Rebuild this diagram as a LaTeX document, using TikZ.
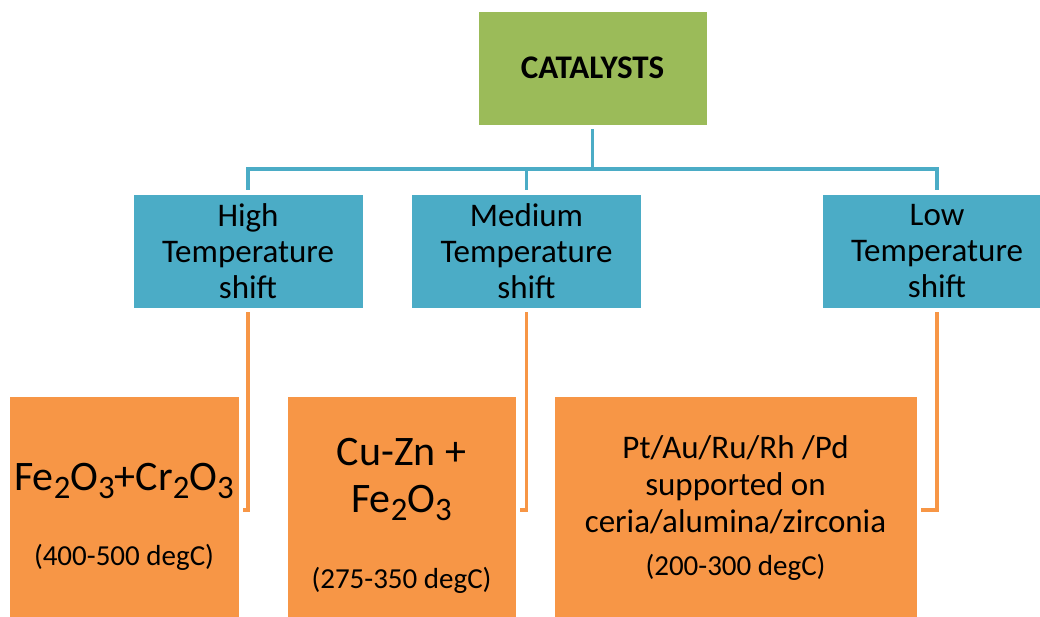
\documentclass[tikz,border=0pt]{standalone}
\usepackage{fontspec}
\setmainfont{Carlito}
\definecolor{catgreen}{HTML}{9BBB59}
\definecolor{catblue}{HTML}{4BACC6}
\definecolor{catorange}{HTML}{F79646}
\newcommand{\chsub}[1]{\raisebox{-0.21em}{\scalebox{0.78}{#1}}}
\tikzset{
  box/.style={draw=white,line width=0.8pt,inner sep=0pt,align=center,text=black},
  rootbox/.style={box,fill=catgreen,minimum width=229pt,minimum height=114pt,font=\fontsize{33}{38}\selectfont\bfseries},
  shiftbox/.style={box,fill=catblue,minimum width=230pt,minimum height=114pt,font=\fontsize{33}{36}\selectfont},
  catbox/.style={box,fill=catorange,minimum height=228pt,text depth=0pt,font=\fontsize{33}{37}\selectfont},
  bluelink/.style={draw=catblue,line width=3.5pt},
  orangelink/.style={draw=catorange,line width=3.5pt,shorten <=4pt,shorten >=4pt}
}
\begin{document}
\begin{tikzpicture}[x=1pt,y=-1pt]
\useasboundingbox (0,0) rectangle (1040,617);
% vertices
\node[rootbox] (root) at (592.5,68) {CATALYSTS};
\node[shiftbox] (hts) at (248,251) {High\\Temperature\\shift};
\node[shiftbox] (mts) at (526.5,251) {Medium\\Temperature\\shift};
\node[shiftbox] (lts) at (937,251) {Low\\Temperature\\shift};
\node[catbox,minimum width=230pt,text height=110pt] (fecr) at (124,510)
  {{\fontsize{42}{48}\selectfont Fe\chsub{2}O\chsub{3}+Cr\chsub{2}O\chsub{3}}\\[38pt]
   {\fontsize{29}{34}\selectfont (400-500 degC)}};
\node[catbox,minimum width=229pt,text height=156pt] (cuzn) at (401.5,510)
  {{\fontsize{42}{48}\selectfont Cu-Zn +}\\[10pt]
   {\fontsize{42}{48}\selectfont Fe\chsub{2}O\chsub{3}}\\[39pt]
   {\fontsize{29}{34}\selectfont (275-350 degC)}};
\node[catbox,minimum width=363pt,text height=130pt] (pgm) at (735.5,510)
  {Pt/Au/Ru/Rh /Pd\\supported on\\ceria/alumina/zirconia\\[6pt]
   {\fontsize{29}{34}\selectfont (200-300 degC)}};
\coordinate (bus) at (592.5,169);
%edges
\draw[bluelink,shorten <=4pt] (root) -- (bus);
\draw[bluelink,shorten <=4pt,shorten >=4pt] (hts.north) |- (bus) -| (lts.north);
\draw[bluelink,shorten <=4pt] (mts.north) -- (mts.north |- bus);
\draw[orangelink] (hts.south) |- (fecr.east);
\draw[orangelink] (mts.south) |- (cuzn.east);
\draw[orangelink] (lts.south) |- (pgm.east);
\end{tikzpicture}
\end{document}
